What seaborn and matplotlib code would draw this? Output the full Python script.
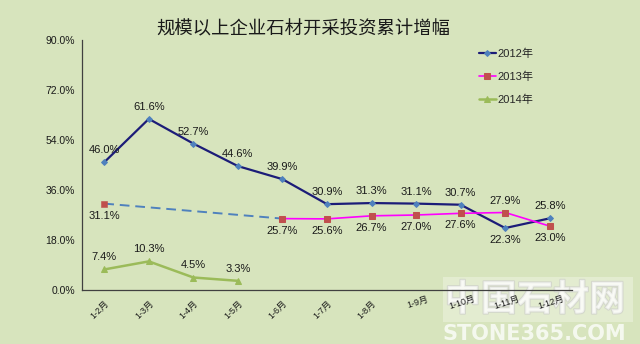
import numpy as np
import pandas as pd
import seaborn as sns
import matplotlib
matplotlib.use("Agg")
import matplotlib.pyplot as plt
import matplotlib.patheffects as pe
from matplotlib.patches import Rectangle

# ---- data ----
months = ['1-2月', '1-3月', '1-4月', '1-5月', '1-6月', '1-7月', '1-8月',
          '1-9月', '1-10月', '1-11月', '1-12月']
v2012 = [46.0, 61.6, 52.7, 44.6, 39.9, 30.9, 31.3, 31.1, 30.7, 22.3, 25.8]
v2013 = [31.1, np.nan, np.nan, np.nan, 25.7, 25.6, 26.7, 27.0, 27.6, 27.9, 23.0]
v2014 = [7.4, 10.3, 4.5, 3.3, np.nan, np.nan, np.nan, np.nan, np.nan, np.nan, np.nan]
series_names = ['2012年', '2013年', '2014年']
yticks = [0, 18, 36, 54, 72, 90]
title = '规模以上企业石材开采投资累计增幅'

# label placement (style): +1 above, -1 below
pos2012 = [1, 1, 1, 1, 1, 1, 1, 1, 1, -1, 1]
pos2013 = [-1, 0, 0, 0, -1, -1, -1, -1, -1, 1, -1]
pos2014 = [1, 1, 1, 1, 0, 0, 0, 0, 0, 0, 0]

sns.set_theme(style='white')
plt.rcParams['font.family'] = ['Liberation Sans', 'Noto Sans CJK SC']
plt.rcParams['axes.unicode_minus'] = False

bg = '#D7E4BD'
fig = plt.figure(figsize=(6.4, 3.44), dpi=100, facecolor=bg)
ax = fig.add_axes([82/640, 54/344, 490/640, 250/344])
ax.set_facecolor('none')
ax.set_zorder(20)

idx = np.arange(len(months))
df = pd.DataFrame({'pos': idx, 'month': months, 'y2012': v2012,
                   'y2013': v2013, 'y2014': v2014})

c2012, m2012 = '#1C1C78', '#4F81BD'
c2013, m2013 = '#FF00FF', '#C0504D'
c2014 = '#9BBB59'

sns.lineplot(data=df, x='pos', y='y2012', ax=ax, color=c2012, lw=1.6,
             marker='D', markersize=3, markerfacecolor=m2012,
             markeredgecolor=m2012, label=series_names[0])
d13 = df.dropna(subset=['y2013'])
# dashed connector across the gap
gap = d13.iloc[:2]
sns.lineplot(data=gap, x='pos', y='y2013', ax=ax, color='#4F81BD', lw=1.4,
             linestyle=(0, (5, 3)), legend=False)
sns.lineplot(data=d13.iloc[1:], x='pos', y='y2013', ax=ax, color=c2013, lw=1.2,
             marker='s', markersize=5, markerfacecolor=m2013,
             markeredgecolor=m2013, label=series_names[1])
sns.scatterplot(data=d13.iloc[:1], x='pos', y='y2013', ax=ax, color=m2013,
                marker='s', s=24, edgecolor=m2013, legend=False, zorder=5)
d14 = df.dropna(subset=['y2014'])
sns.lineplot(data=d14, x='pos', y='y2014', ax=ax, color=c2014, lw=1.8,
             marker='^', markersize=5, markerfacecolor=c2014,
             markeredgecolor=c2014, label=series_names[2])

# data labels
for col, posl in (('y2012', pos2012), ('y2013', pos2013), ('y2014', pos2014)):
    for i, (xv, yv) in enumerate(zip(df['pos'], df[col])):
        if np.isnan(yv) or posl[i] == 0:
            continue
        ax.annotate(f'{yv:.1f}%', (xv, yv), xytext=(0, 12 * posl[i]),
                    textcoords='offset pixels', ha='center', va='center',
                    fontsize=8, color='#1a1a1a')

ax.set_xlim(-0.5, len(months) - 0.5)
ax.set_ylim(yticks[0], yticks[-1])
ax.set_yticks(yticks)
ax.set_yticklabels([f'{v:.1f}%' for v in yticks], fontsize=7.5, color='#1a1a1a')
ax.set_xticks(idx)
ax.set_xticklabels(months)
ax.set_xticks(np.arange(0.5, len(months), 1), minor=True)
ax.tick_params(axis='x', which='major', length=0, pad=6)
ax.tick_params(axis='x', which='minor', length=3, direction='in', color='#404040')
ax.tick_params(axis='y', which='major', length=3, direction='in', color='#404040', pad=5)
for i, lab in enumerate(ax.get_xticklabels()):
    lab.set_fontsize(6.5)
    lab.set_color('#1a1a1a')
    lab.set_va('top')
    if i < 7:
        lab.set_ha('right')
        lab.set_rotation(45)
    else:
        lab.set_ha('center')
        lab.set_rotation(18)
    lab.set_rotation_mode('anchor')
ax.set_xlabel('')
ax.set_ylabel('')
for s in ('top', 'right'):
    ax.spines[s].set_visible(False)
for s in ('left', 'bottom'):
    ax.spines[s].set_color('#404040')
    ax.spines[s].set_linewidth(0.9)

leg = ax.legend(loc='upper left', bbox_to_anchor=(469/640, 1 - 39/344),
                bbox_transform=fig.transFigure, frameon=False, fontsize=8,
                labelspacing=1.1, handlelength=1.5, handletextpad=0.2)

fig.text(303/640, 1 - 29/344, title, ha='center', va='center', fontsize=13.2,
         fontweight='medium', color='#1a1a1a',
         family=['Noto Sans CJK SC', 'DejaVu Sans'])

# watermark
fig.patches.append(Rectangle((443/640, 1 - 322/344), 190/640, 45/344,
                             transform=fig.transFigure, facecolor='white',
                             alpha=0.3, edgecolor='none', zorder=10))
fig.text(535/640, 1 - 300/344, '中国石材网', ha='center', va='center',
         fontsize=26, fontweight='bold', color='white', alpha=0.55,
         family=['Noto Sans CJK SC'], zorder=11,
         path_effects=[pe.withStroke(linewidth=1.5, foreground='#c8c8c8')])
fig.text(534/640, 1 - 334/344, 'STONE365.COM', ha='center', va='center',
         fontsize=15, fontweight='bold', color='white', alpha=0.75,
         family=['DejaVu Sans'], zorder=11)

fig.savefig('out.png', dpi=100, facecolor=bg)
